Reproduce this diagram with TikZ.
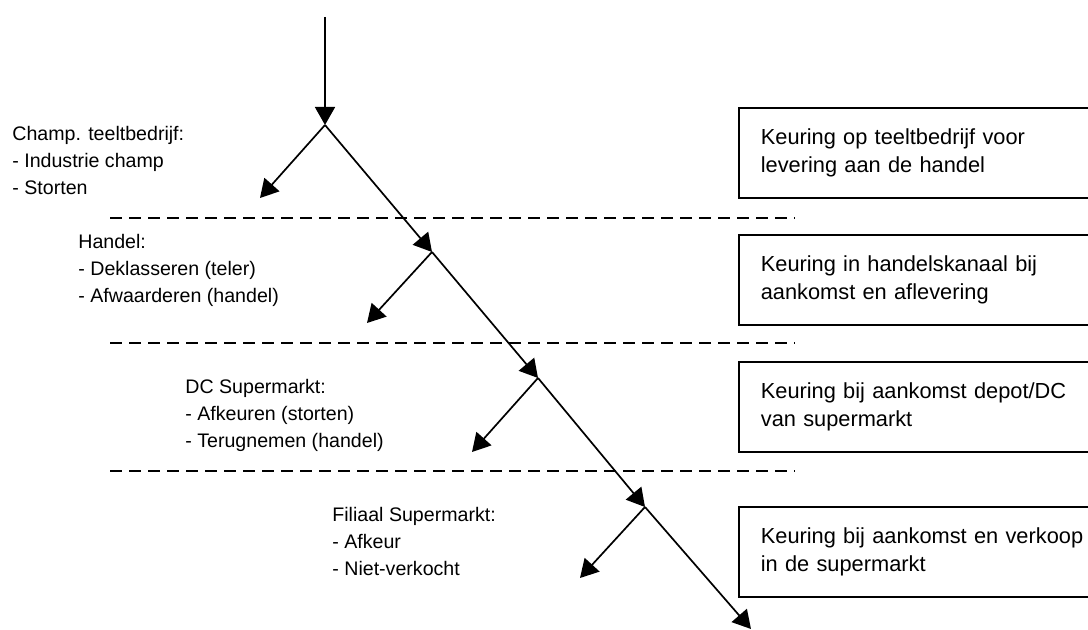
\documentclass[tikz,border=0pt]{standalone}
\usepackage{fontspec}
\setmainfont{Liberation Sans}
\usetikzlibrary{arrows.meta}

\begin{document}
\begin{tikzpicture}[
    x=0.5pt, y=-0.5pt,
    flow/.style={draw=black, line width=0.85pt, -{Triangle[length=9pt, width=10pt]}},
    sepline/.style={draw=black, line width=0.9pt, dash pattern=on 6pt off 3.5pt},
    lab/.style={anchor=north west, inner sep=0pt, align=left, font=\fontsize{9.8}{13.5}\selectfont},
    check/.style={draw=black, line width=0.85pt, anchor=west, inner xsep=11pt, inner ysep=0pt,
                  text width=170pt, minimum height=45pt, align=left, font=\fontsize{10.9}{14}\selectfont},
  ]
  \useasboundingbox (0,0) rectangle (1088,630);

  % main chain
  \coordinate (top) at (325,17);
  \coordinate (j1) at (325,125);
  \coordinate (j2) at (432,252);
  \coordinate (j3) at (538,378);
  \coordinate (j4) at (645,507);
  \coordinate (out) at (751,629);
  % side outlets
  \coordinate (b1) at (260,198);
  \coordinate (b2) at (367,323);
  \coordinate (b3) at (472,452);
  \coordinate (b4) at (580,578);

  \draw[flow] (top) -- (j1);
  \draw[flow] (j1) -- (j2);
  \draw[flow] (j2) -- (j3);
  \draw[flow] (j3) -- (j4);
  \draw[flow] (j4) -- (out);
  \draw[flow] (j1) -- (b1);
  \draw[flow] (j2) -- (b2);
  \draw[flow] (j3) -- (b3);
  \draw[flow] (j4) -- (b4);

  \foreach \y in {218,343,471}
    \draw[sepline] (110,\y) -- (795,\y);

  \node[lab] (teelt) at (12,126) {Champ. teeltbedrijf:\\- Industrie champ\\- Storten};
  \node[lab] (handel) at (78,234) {Handel:\\- Deklasseren (teler)\\- Afwaarderen (handel)};
  \node[lab] (dc) at (185,379) {DC Supermarkt:\\- Afkeuren (storten)\\- Terugnemen (handel)};
  \node[lab] (filiaal) at (332,507) {Filiaal Supermarkt:\\- Afkeur\\- Niet-verkocht};

  \node[check] (k1) at (738,153) {Keuring op teeltbedrijf voor\\levering aan de handel};
  \node[check] (k2) at (738,280) {Keuring in handelskanaal bij\\aankomst en aflevering};
  \node[check] (k3) at (738,407) {Keuring bij aankomst depot/DC\\van supermarkt};
  \node[check] (k4) at (738,552) {Keuring bij aankomst en verkoop\\in de supermarkt};
\end{tikzpicture}
\end{document}
